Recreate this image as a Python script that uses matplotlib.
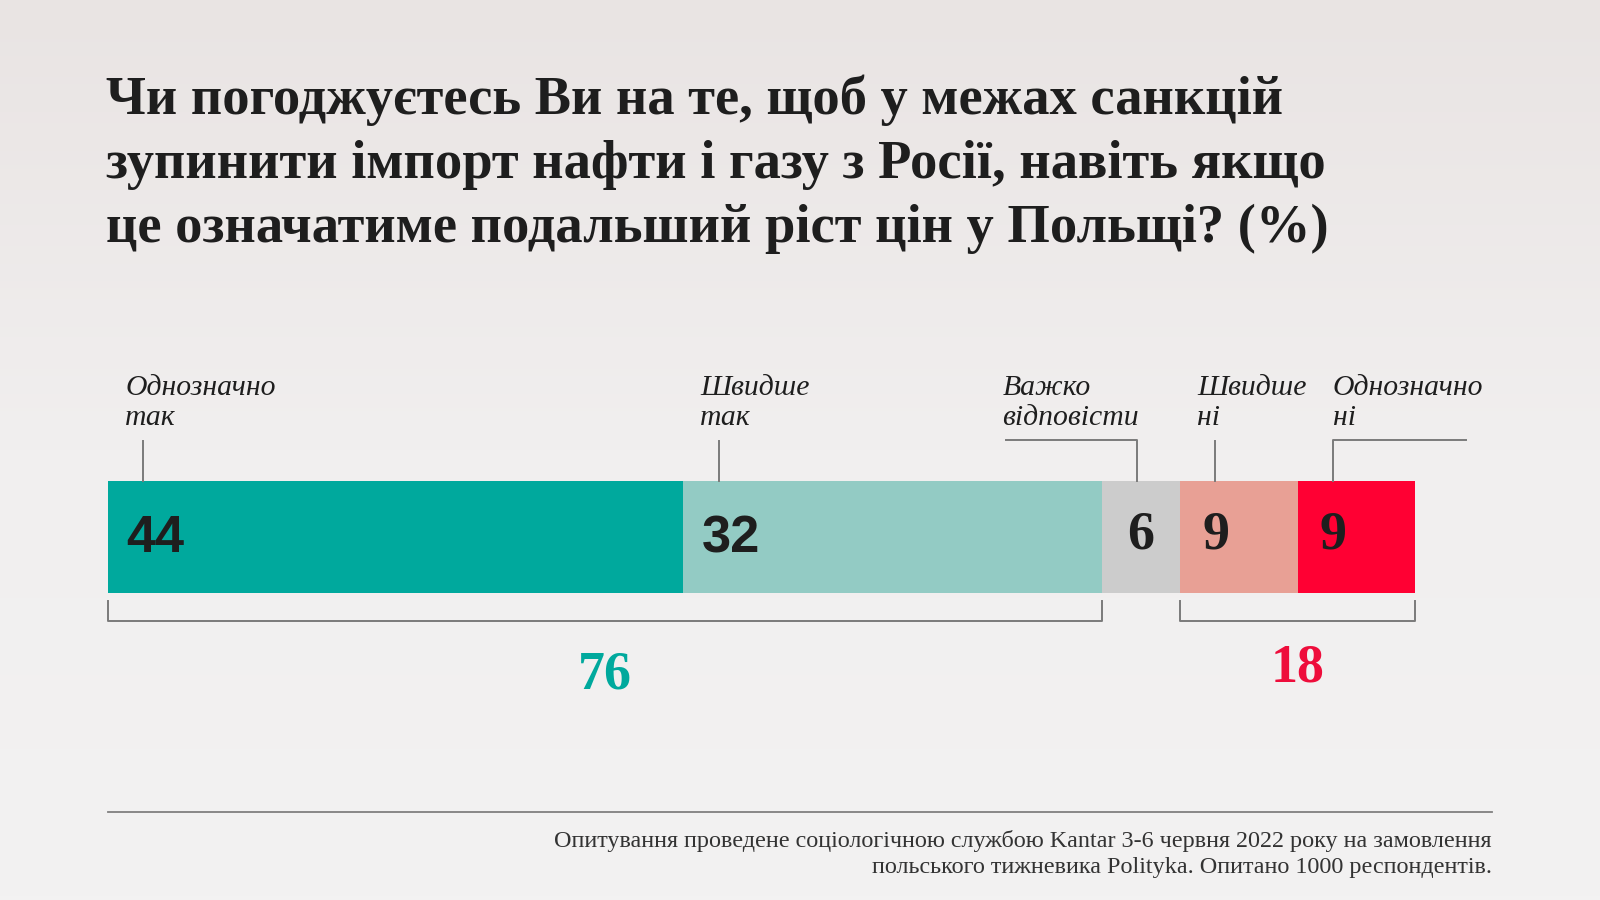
import numpy as np
import matplotlib.pyplot as plt
from matplotlib.colors import LinearSegmentedColormap

# --- data ---
categories = ["Однозначно\nтак", "Швидше\nтак", "Важко\nвідповісти", "Швидше\nні", "Однозначно\nні"]
values = [44, 32, 6, 9, 9]
colors = ["#00a99d", "#93cbc4", "#cccccc", "#e8a095", "#ff0033"]
yes_total = 76
no_total = 18

title = ("Чи погоджуєтесь Ви на те, щоб у межах санкцій\n"
         "зупинити імпорт нафти і газу з Росії, навіть якщо\n"
         "це означатиме подальший ріст цін у Польщі? (%)")
footer = ("Опитування проведене соціологічною службою Kantar 3-6 червня 2022 року на замовлення\n"
          "польського тижневика Polityka. Опитано 1000 респондентів.")

# --- layout (reference is 1568x882, y in pixels from top) ---
W, H = 1568, 882
x0, x1 = 106, 1387
ppu = (x1 - x0) / 100.0          # pixels per percent
k = 1600 / W                      # font scaling

def X(px):
    return (px - x0) / ppu

fig = plt.figure(figsize=(16, 9), dpi=100)
ax = fig.add_axes([0, 0, 1, 1])
ax.set_xlim(X(0), X(W))
ax.set_ylim(H, 0)
ax.axis("off")

# background gradient
cmap = LinearSegmentedColormap.from_list("bg", ["#e9e4e3", "#f1efef", "#f3f2f2"])
grad = np.linspace(0, 1, 256).reshape(-1, 1)
ax.imshow(grad, cmap=cmap, aspect="auto", extent=[X(0), X(W), H, 0], zorder=0)

serif = ["Liberation Serif", "DejaVu Serif"]
sans_narrow = ["Liberation Sans Narrow", "Liberation Sans", "DejaVu Sans"]

# title
ax.text(X(104), 73, title, fontsize=38.5 * k, fontweight="bold", family=serif,
        color="#1e1e1e", va="top", ha="left", linespacing=1.36, zorder=3)

# stacked bar
lefts = np.concatenate([[0], np.cumsum(values)[:-1]])
bar_y, bar_h = 526, 110
ax.barh(bar_y, values, left=lefts, height=bar_h, color=colors, zorder=2)

line_c = "#7a7a7a"
lw = 1.4
top_bar = bar_y - bar_h / 2
lab_kw = dict(fontsize=21 * k, style="italic", family=serif, color="#1e1e1e",
              va="bottom", ha="left", linespacing=1.17, zorder=3)
for i, (cat, v, l) in enumerate(zip(categories, values, lefts)):
    lx = l + 2.7
    if i in (0, 1, 3):
        ax.plot([lx, lx], [432, top_bar], color=line_c, lw=lw, zorder=3)
        ax.text(lx - 1.4, 422, cat, **lab_kw)
    elif i == 2:
        ax.plot([lx - 10, lx, lx], [431, 431, top_bar], color=line_c, lw=lw, zorder=3)
        ax.text(lx - 10.3, 422, cat, **lab_kw)
    else:
        ax.plot([lx + 10.2, lx, lx], [431, 431, top_bar], color=line_c, lw=lw, zorder=3)
        ax.text(lx, 422, cat, **lab_kw)

    # number inside segment
    if i < 2:
        ax.text(l + 1.4, bar_y + 2, str(v), fontsize=37 * k, fontweight="bold",
                family=sans_narrow, color="#1e1e1e", va="center", ha="left", zorder=3)
    else:
        xpos = l + v / 2 if i == 2 else l + 1.7
        ax.text(xpos, bar_y - 1, str(v), fontsize=38 * k, fontweight="bold", family=serif,
                color="#1e1e1e", va="center", ha="center" if i == 2 else "left", zorder=3)

# brackets and totals
yes_end = values[0] + values[1]
no_start = yes_end + values[2]
by0, by1 = 589, 609
ax.plot([0, 0, yes_end, yes_end], [by0, by1, by1, by0], color=line_c, lw=lw, zorder=3)
ax.plot([no_start, no_start, 100, 100], [by0, by1, by1, by0], color=line_c, lw=lw, zorder=3)
ax.text(yes_end / 2, 662, str(yes_total), fontsize=38 * k, fontweight="bold", family=serif,
        color="#00a99d", va="center", ha="center", zorder=3)
ax.text(no_start + (100 - no_start) / 2, 655, str(no_total), fontsize=38 * k, fontweight="bold",
        family=serif, color="#ee0d3b", va="center", ha="center", zorder=3)

# footer
ax.plot([X(106), X(1462)], [796, 796], color="#808080", lw=1.3, zorder=3)
ax.text(X(1462), 813, footer, fontsize=17 * k, family=serif, color="#333333",
        va="top", ha="right", linespacing=1.35, zorder=3)

fig.savefig("out.png", dpi=100)
